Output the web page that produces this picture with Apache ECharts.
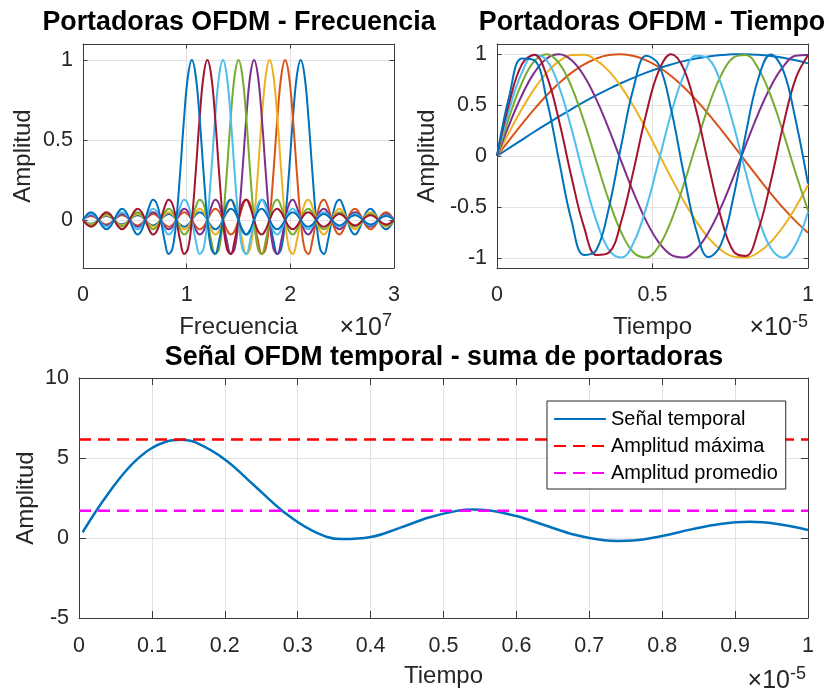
<!DOCTYPE html>
<html><head><meta charset="utf-8">
<script src="https://cdn.jsdelivr.net/npm/echarts@6/dist/echarts.min.js"></script>
<style>html,body{margin:0;padding:0;background:#fff}#c{width:829px;height:693px}</style>
</head><body><div id="c"></div>
<script>
// ---------- DATA ----------
// Top-left: carrier spectra (frequency in units of 1e7)
const freqX = [0,0.0375,0.075,0.1125,0.15,0.1875,0.225,0.2625,0.3,0.3375,0.375,0.4125,0.45,0.4875,0.525,0.5625,0.6,0.6375,0.675,0.7125,0.75,0.7875,0.825,0.8625,0.9,0.9375,0.975,1.0125,1.05,1.0875,1.125,1.1625,1.2,1.2375,1.275,1.3125,1.35,1.3875,1.425,1.4625,1.5,1.5375,1.575,1.6125,1.65,1.6875,1.725,1.7625,1.8,1.8375,1.875,1.9125,1.95,1.9875,2.025,2.0625,2.1,2.1375,2.175,2.2125,2.25,2.2875,2.325,2.3625,2.4,2.4375,2.475,2.5125,2.55,2.5875,2.625,2.6625,2.7,2.7375,2.775,2.8125,2.85,2.8875,2.925,2.9625,3.0];
const spec1 = [0,-0.016,-0.024,-0.017, 0,0.018,0.025,0.018, 0,-0.019,-0.028,-0.020, 0,0.021,0.030,0.022, 0,-0.023,-0.034,-0.024, 0,0.026,0.037,0.027, 0,-0.029,-0.042,-0.031, 0,0.033,0.049,0.036, 0,-0.039,-0.058,-0.043, 0,0.047,0.071,0.053, 0,-0.060,-0.091,-0.069, 0,0.082,0.127,0.100, 0,-0.129,-0.212,-0.180, 0,0.300,0.637,0.900, 1,0.900,0.637,0.300, 0,-0.180,-0.212,-0.129, 0,0.100,0.127,0.082, 0,-0.069,-0.091,-0.060, 0,0.053,0.071,0.047, 0,-0.043,-0.058,-0.039, 0];
const spec2 = [0,0.018,0.025,0.018, 0,-0.019,-0.028,-0.020, 0,0.021,0.030,0.022, 0,-0.023,-0.034,-0.024, 0,0.026,0.037,0.027, 0,-0.029,-0.042,-0.031, 0,0.033,0.049,0.036, 0,-0.039,-0.058,-0.043, 0,0.047,0.071,0.053, 0,-0.060,-0.091,-0.069, 0,0.082,0.127,0.100, 0,-0.129,-0.212,-0.180, 0,0.300,0.637,0.900, 1,0.900,0.637,0.300, 0,-0.180,-0.212,-0.129, 0,0.100,0.127,0.082, 0,-0.069,-0.091,-0.060, 0,0.053,0.071,0.047, 0,-0.043,-0.058,-0.039, 0,0.036,0.049,0.033, 0];
const spec3 = [0,-0.019,-0.028,-0.020, 0,0.021,0.030,0.022, 0,-0.023,-0.034,-0.024, 0,0.026,0.037,0.027, 0,-0.029,-0.042,-0.031, 0,0.033,0.049,0.036, 0,-0.039,-0.058,-0.043, 0,0.047,0.071,0.053, 0,-0.060,-0.091,-0.069, 0,0.082,0.127,0.100, 0,-0.129,-0.212,-0.180, 0,0.300,0.637,0.900, 1,0.900,0.637,0.300, 0,-0.180,-0.212,-0.129, 0,0.100,0.127,0.082, 0,-0.069,-0.091,-0.060, 0,0.053,0.071,0.047, 0,-0.043,-0.058,-0.039, 0,0.036,0.049,0.033, 0,-0.031,-0.042,-0.029, 0];
const spec4 = [0,0.021,0.030,0.022, 0,-0.023,-0.034,-0.024, 0,0.026,0.037,0.027, 0,-0.029,-0.042,-0.031, 0,0.033,0.049,0.036, 0,-0.039,-0.058,-0.043, 0,0.047,0.071,0.053, 0,-0.060,-0.091,-0.069, 0,0.082,0.127,0.100, 0,-0.129,-0.212,-0.180, 0,0.300,0.637,0.900, 1,0.900,0.637,0.300, 0,-0.180,-0.212,-0.129, 0,0.100,0.127,0.082, 0,-0.069,-0.091,-0.060, 0,0.053,0.071,0.047, 0,-0.043,-0.058,-0.039, 0,0.036,0.049,0.033, 0,-0.031,-0.042,-0.029, 0,0.027,0.037,0.026, 0];
const spec5 = [0,-0.023,-0.034,-0.024, 0,0.026,0.037,0.027, 0,-0.029,-0.042,-0.031, 0,0.033,0.049,0.036, 0,-0.039,-0.058,-0.043, 0,0.047,0.071,0.053, 0,-0.060,-0.091,-0.069, 0,0.082,0.127,0.100, 0,-0.129,-0.212,-0.180, 0,0.300,0.637,0.900, 1,0.900,0.637,0.300, 0,-0.180,-0.212,-0.129, 0,0.100,0.127,0.082, 0,-0.069,-0.091,-0.060, 0,0.053,0.071,0.047, 0,-0.043,-0.058,-0.039, 0,0.036,0.049,0.033, 0,-0.031,-0.042,-0.029, 0,0.027,0.037,0.026, 0,-0.024,-0.034,-0.023, 0];
const spec6 = [0,0.026,0.037,0.027, 0,-0.029,-0.042,-0.031, 0,0.033,0.049,0.036, 0,-0.039,-0.058,-0.043, 0,0.047,0.071,0.053, 0,-0.060,-0.091,-0.069, 0,0.082,0.127,0.100, 0,-0.129,-0.212,-0.180, 0,0.300,0.637,0.900, 1,0.900,0.637,0.300, 0,-0.180,-0.212,-0.129, 0,0.100,0.127,0.082, 0,-0.069,-0.091,-0.060, 0,0.053,0.071,0.047, 0,-0.043,-0.058,-0.039, 0,0.036,0.049,0.033, 0,-0.031,-0.042,-0.029, 0,0.027,0.037,0.026, 0,-0.024,-0.034,-0.023, 0,0.022,0.030,0.021, 0];
const spec7 = [0,-0.029,-0.042,-0.031, 0,0.033,0.049,0.036, 0,-0.039,-0.058,-0.043, 0,0.047,0.071,0.053, 0,-0.060,-0.091,-0.069, 0,0.082,0.127,0.100, 0,-0.129,-0.212,-0.180, 0,0.300,0.637,0.900, 1,0.900,0.637,0.300, 0,-0.180,-0.212,-0.129, 0,0.100,0.127,0.082, 0,-0.069,-0.091,-0.060, 0,0.053,0.071,0.047, 0,-0.043,-0.058,-0.039, 0,0.036,0.049,0.033, 0,-0.031,-0.042,-0.029, 0,0.027,0.037,0.026, 0,-0.024,-0.034,-0.023, 0,0.022,0.030,0.021, 0,-0.020,-0.028,-0.019, 0];
const spec8 = [0,0.033,0.049,0.036, 0,-0.039,-0.058,-0.043, 0,0.047,0.071,0.053, 0,-0.060,-0.091,-0.069, 0,0.082,0.127,0.100, 0,-0.129,-0.212,-0.180, 0,0.300,0.637,0.900, 1,0.900,0.637,0.300, 0,-0.180,-0.212,-0.129, 0,0.100,0.127,0.082, 0,-0.069,-0.091,-0.060, 0,0.053,0.071,0.047, 0,-0.043,-0.058,-0.039, 0,0.036,0.049,0.033, 0,-0.031,-0.042,-0.029, 0,0.027,0.037,0.026, 0,-0.024,-0.034,-0.023, 0,0.022,0.030,0.021, 0,-0.020,-0.028,-0.019, 0,0.018,0.025,0.018, 0];

// Top-right: carriers in time (time in units of 1e-5)
const timeT = [0,0.04,0.08,0.12,0.16,0.2,0.24,0.28,0.32,0.36,0.4,0.44,0.48,0.52,0.56,0.6,0.64,0.68,0.72,0.76,0.8,0.84,0.88,0.92,0.96,1];
const wave1 = [0,0.08,0.159,0.238,0.314,0.389,0.461,0.531,0.597,0.659,0.717,0.77,0.819,0.862,0.899,0.932,0.958,0.978,0.991,0.999,1,0.994,0.982,0.964,0.94,0.91];
const wave2 = [0,0.159,0.314,0.461,0.597,0.717,0.819,0.899,0.958,0.991,1,0.982,0.94,0.874,0.786,0.677,0.551,0.412,0.262,0.105,-0.055,-0.213,-0.366,-0.51,-0.64,-0.754];
const wave3 = [0,0.238,0.461,0.659,0.819,0.932,0.991,0.994,0.94,0.833,0.677,0.483,0.262,0.025,-0.213,-0.439,-0.64,-0.804,-0.922,-0.988,-0.997,-0.948,-0.846,-0.695,-0.505,-0.285];
const wave4 = [0,0.314,0.597,0.819,0.958,1,0.94,0.786,0.551,0.262,-0.055,-0.366,-0.64,-0.849,-0.972,-0.997,-0.92,-0.75,-0.505,-0.208,0.11,0.417,0.681,0.877,0.984,0.991];
const wave5 = [0,0.389,0.717,0.932,1,0.91,0.677,0.338,-0.055,-0.439,-0.754,-0.95,-0.997,-0.886,-0.636,-0.285,0.11,0.488,0.789,0.966,0.991,0.859,0.592,0.232,-0.165,-0.536];
const wave6 = [0,0.461,0.819,0.991,0.94,0.677,0.262,-0.213,-0.64,-0.922,-0.997,-0.846,-0.505,-0.05,0.417,0.789,0.984,0.956,0.713,0.309,-0.165,-0.601,-0.902,-0.999,-0.871,-0.547];
const wave7 = [0,0.531,0.9,0.994,0.786,0.338,-0.213,-0.699,-0.972,-0.948,-0.636,-0.129,0.417,0.836,1,0.859,0.456,-0.085,-0.601,-0.934,-0.981,-0.73,-0.256,0.296,0.758,0.989];
const wave8 = [0,0.597,0.958,0.94,0.551,-0.055,-0.64,-0.972,-0.92,-0.505,0.11,0.681,0.984,0.897,0.456,-0.165,-0.721,-0.992,-0.871,-0.407,0.219,0.758,0.997,0.843,0.356,-0.272];

// Bottom: OFDM signal (sum of carriers)
const sumT = [0.005,0.04,0.08,0.12,0.14,0.16,0.2,0.24,0.28,0.32,0.36,0.4,0.44,0.48,0.52,0.54,0.56,0.6,0.64,0.68,0.72,0.74,0.76,0.8,0.84,0.88,0.92,0.96,1];
const sumY = [0.36,2.77,4.93,6.03,6.14,5.97,4.91,3.3,1.66,0.46,-0.07,0.06,0.63,1.28,1.71,1.78,1.74,1.37,0.78,0.2,-0.14,-0.19,-0.16,0.12,0.54,0.88,1.01,0.86,0.5];
const ampMax = 6.15;
const ampMean = 1.70;

const tlTicksY = [0, 0.5, 1];
const trTicksY = [-1, -0.5, 0, 0.5, 1];

// ---------- STYLE ----------
const FONT = '"Liberation Sans", Arial, Helvetica, sans-serif';
const COLORS = ['#0072BD','#D95319','#EDB120','#7E2F8E','#77AC30','#4DBEEE','#A2142F','#0072BD'];
const AX = '#3c3c3c', GRID = '#e2e2e2', TXT = '#262626';
const specs = [spec1,spec2,spec3,spec4,spec5,spec6,spec7,spec8];
const waves = [wave1,wave2,wave3,wave4,wave5,wave6,wave7,wave8];

function xAxes(gi, min, max, interval, tickLen, name, nameGap, margin) {
  const base = {type:'value', gridIndex:gi, min, max, interval,
    axisLine:{show:true,onZero:false,lineStyle:{color:AX,width:1}},
    axisTick:{show:true,inside:true,length:tickLen,lineStyle:{color:AX,width:1}}};
  return [
    Object.assign({}, base, {position:'bottom',
      axisLabel:{show:true,margin,fontSize:21.5,color:TXT,fontFamily:FONT},
      splitLine:{show:true,lineStyle:{color:GRID,width:1}},
      name, nameLocation:'middle', nameGap, nameMoveOverlap:false,
      nameTextStyle:{fontSize:24,color:TXT,fontFamily:FONT}}),
    Object.assign({}, base, {position:'top', axisLabel:{show:false}, splitLine:{show:false}})
  ];
}
function yAxes(gi, min, max, ticks, interval, tickLen, nameGap) {
  const tickCfg = ticks ? {customValues:ticks} : {};
  const base = {type:'value', gridIndex:gi, min, max,
    axisLine:{show:true,onZero:false,lineStyle:{color:AX,width:1}},
    axisTick:Object.assign({show:true,inside:true,length:tickLen,lineStyle:{color:AX,width:1}}, tickCfg)};
  if (interval) base.interval = interval;
  return [
    Object.assign({}, base, {position:'left',
      axisLabel:Object.assign({show:true,margin:10,fontSize:21.5,color:TXT,fontFamily:FONT}, tickCfg),
      splitLine:{show:true,lineStyle:{color:GRID,width:1}},
      name:'Amplitud', nameLocation:'middle', nameGap, nameMoveOverlap:false,
      nameTextStyle:{fontSize:24,color:TXT,fontFamily:FONT}}),
    Object.assign({}, base, {position:'right', axisLabel:{show:false}, splitLine:{show:false}})
  ];
}

const xAxis = [].concat(
  xAxes(0, 0, 3, 1, 4.5, 'Frecuencia', 47, 16),
  xAxes(1, 0, 1, 0.5, 4.5, 'Tiempo', 47, 16),
  xAxes(2, 0, 1, 0.1, 7, 'Tiempo', 46, 17)
);
const yAxis = [].concat(
  yAxes(0, -0.3, 1.1, tlTicksY, null, 4.5, 48),
  yAxes(1, -1.1, 1.1, trTicksY, null, 4.5, 58),
  yAxes(2, -5, 10, null, 5, 7, 41)
);

const series = [];
specs.forEach((s, k) => series.push({type:'line', xAxisIndex:0, yAxisIndex:0,
  data: freqX.map((f,i)=>[f, s[i]]), smooth:0.4, symbol:'none', showSymbol:false,
  lineStyle:{color:COLORS[k], width:2}, itemStyle:{color:COLORS[k]}, silent:true}));
waves.forEach((w, k) => series.push({type:'line', xAxisIndex:2, yAxisIndex:2,
  data: timeT.map((t,i)=>[t, w[i]]), smooth:0.4, symbol:'none', showSymbol:false,
  lineStyle:{color:COLORS[k], width:2}, itemStyle:{color:COLORS[k]}, silent:true}));
series.push({name:'Señal temporal', type:'line', xAxisIndex:4, yAxisIndex:4,
  data: sumT.map((t,i)=>[t, sumY[i]]), smooth:0.4, symbol:'none', showSymbol:false,
  lineStyle:{color:'#0072BD', width:2.5}, itemStyle:{color:'#0072BD'}});
series.push({name:'Amplitud máxima', type:'line', xAxisIndex:4, yAxisIndex:4,
  data:[[0, ampMax],[1, ampMax]], symbol:'none', showSymbol:false,
  lineStyle:{color:'#FF0000', width:2.5, type:[12,7]}, itemStyle:{color:'#FF0000'}});
series.push({name:'Amplitud promedio', type:'line', xAxisIndex:4, yAxisIndex:4,
  data:[[0, ampMean],[1, ampMean]], symbol:'none', showSymbol:false,
  lineStyle:{color:'#FF00FF', width:2.5, type:[12,7]}, itemStyle:{color:'#FF00FF'}});

function txt(x, y, text, size, weight, align) {
  return {type:'text', x, y, z:100, style:{text, fontSize:size, fontWeight:weight||'normal',
    fontFamily:FONT, fill:weight==='bold'?'#000':TXT, align:align||'center', textAlign:align||'center',
    verticalAlign:'middle', textVerticalAlign:'middle'}};
}

const option = {
  animation:false,
  backgroundColor:'#ffffff',
  grid:[
    {left:83, top:44, width:311, height:224},
    {left:497, top:44, width:311, height:224},
    {left:79, top:378, width:729, height:240}
  ],
  xAxis, yAxis, series,
  legend:{data:['Señal temporal','Amplitud máxima','Amplitud promedio'], orient:'vertical',
    left:547, top:401, padding:[8,8,6,6], itemWidth:52, itemHeight:14, itemGap:7,
    itemStyle:{opacity:0, borderWidth:0},
    backgroundColor:'#fff', borderColor:'#262626', borderWidth:1, borderRadius:0,
    textStyle:{fontSize:20, color:'#000', fontFamily:FONT}},
  graphic:[
    txt(239, 23, 'Portadoras OFDM - Frecuencia', 26.8, 'bold'),
    txt(652, 23, 'Portadoras OFDM - Tiempo', 26.8, 'bold'),
    txt(444, 358, 'Señal OFDM temporal - suma de portadoras', 26.8, 'bold'),
    txt(382, 328, '×10', 25, 'normal', 'right'),
    txt(382, 321, '7', 18, 'normal', 'left'),
    txt(792, 328, '×10', 25, 'normal', 'right'),
    txt(792, 322, '-5', 18, 'normal', 'left'),
    txt(790, 681, '×10', 25, 'normal', 'right'),
    txt(790, 674, '-5', 18, 'normal', 'left')
  ]
};
const chart = echarts.init(document.getElementById('c'));
chart.setOption(option);
</script></body></html>
